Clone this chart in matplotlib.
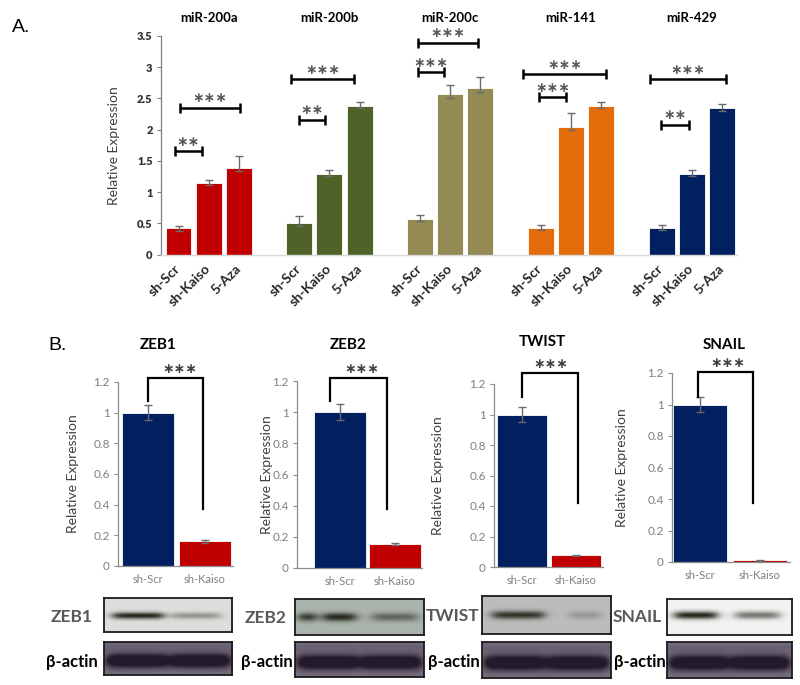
import numpy as np
import matplotlib
matplotlib.use('Agg')
import matplotlib.pyplot as plt

plt.rcParams['font.family'] = ['Lato', 'DejaVu Sans']

W, H = 800, 685

# ---------------- Panel A data ----------------
mirnas = ['miR-200a', 'miR-200b', 'miR-200c', 'miR-141', 'miR-429']
conditions_a = ['sh-Scr', 'sh-Kaiso', '5-Aza']
vals_200a = [0.42, 1.15, 1.38]
vals_200b = [0.50, 1.29, 2.38]
vals_200c = [0.57, 2.57, 2.66]
vals_141 = [0.42, 2.04, 2.38]
vals_429 = [0.42, 1.29, 2.34]
err_up_a = [[0.04, 0.04, 0.19], [0.11, 0.06, 0.06], [0.06, 0.14, 0.19],
            [0.05, 0.23, 0.06], [0.05, 0.06, 0.07]]
err_dn_a = [[0.04, 0.03, 0.05], [0.05, 0.04, 0.04], [0.03, 0.06, 0.05],
            [0.03, 0.04, 0.04], [0.03, 0.03, 0.04]]
colors_a = ['#c00000', '#4f6228', '#948a54', '#e46c0a', '#002060']
# significance brackets: (x_start, x_end, y, label) in data units
sig_a = [(-0.12, 0.78, 1.65, '**'), (0.05, 2.04, 2.35, '***'),
         (3.99, 4.85, 2.16, '**'), (3.73, 5.81, 2.81, '***'),
         (7.93, 8.79, 2.92, '***'), (7.93, 9.92, 3.39, '***'),
         (11.94, 12.84, 2.52, '***'), (11.41, 14.16, 2.89, '***'),
         (15.98, 16.91, 2.08, '**'), (15.62, 18.13, 2.81, '***')]

# ---------------- Panel B data ----------------
genes_b = ['ZEB1', 'ZEB2', 'TWIST', 'SNAIL']
conditions_b = ['sh-Scr', 'sh-Kaiso']
b_scr = [1.0, 1.0, 1.0, 1.0]
b_kaiso = [0.16, 0.155, 0.077, 0.01]
b_scr_err = [0.05, 0.05, 0.05, 0.045]
b_kaiso_err = [0.01, 0.005, 0.003, 0.002]
# bracket: (x_left, x_right, y_left, y_top, y_right, star_x)
brackets_b = [(0.0, 0.965, 1.078, 1.228, 0.37, 0.55),
              (-0.17, 0.86, 1.07, 1.22, 0.377, 0.40),
              (0.0, 1.04, 1.117, 1.274, 0.42, 0.54),
              (-0.03, 0.89, 1.05, 1.208, 0.373, 0.47)]

navy = '#002060'
red = '#c00000'


def fx(x):
    return x / W


def fy(y):
    return 1 - y / H


fig = plt.figure(figsize=(8, 6.85), dpi=100)

# ---------------- Panel A ----------------
axA = fig.add_axes([fx(161), fy(254.5), (737 - 161) / W, (254.5 - 36) / H])
series_a = [vals_200a, vals_200b, vals_200c, vals_141, vals_429]
positions = []
labels = []
for g, vals in enumerate(series_a):
    xs = np.arange(3) + 4 * g
    axA.bar(xs, vals, width=0.86, color=colors_a[g], edgecolor='white',
            linewidth=0.6, zorder=2)
    axA.errorbar(xs, vals, yerr=[err_dn_a[g], err_up_a[g]], fmt='none',
                 ecolor='#6b6b6b', elinewidth=1.0, capsize=3, capthick=1.0,
                 zorder=3)
    positions.extend(xs)
    labels.extend(conditions_a)
    axA.text(4 * g + 1, 3.5 + 0.2, mirnas[g],
             ha='center', va='bottom', fontsize=9.5, fontweight='bold',
             color='black', clip_on=False)

axA.set_xlim(-0.58, 18.5)
axA.set_ylim(0, 3.5)
axA.set_yticks(np.arange(0, 3.51, 0.5))
axA.set_yticklabels(['0', '0.5', '1', '1.5', '2', '2.5', '3', '3.5'])
axA.set_xticks(positions)
axA.set_xticklabels(labels, rotation=45, ha='right', va='center',
                    rotation_mode='anchor', fontsize=10, fontweight='bold',
                    color='#262626')
axA.tick_params(axis='x', length=0, pad=9)
axA.tick_params(axis='y', length=3, width=0.8, color='#7f7f7f',
                labelsize=8, labelcolor='#333333', pad=3)
for lab in axA.get_yticklabels():
    lab.set_fontweight('heavy')
for s in ['top', 'right']:
    axA.spines[s].set_visible(False)
axA.spines['left'].set_color('#7f7f7f')
axA.spines['left'].set_linewidth(0.9)
axA.spines['bottom'].set_color('#d9d9d9')
axA.spines['bottom'].set_linewidth(1.0)
axA.set_ylabel('Relative Expression', fontsize=10, color='#404040', labelpad=12)

for x1, x2, y, lab in sig_a:
    axA.plot([x1, x2], [y, y], color='black', lw=1.8, zorder=4,
             solid_capstyle='butt')
    axA.plot([x1, x2], [y, y], ls='none', marker='|', ms=7, mew=1.8,
             color='black', zorder=4)
    axA.text((x1 + x2) / 2, y + 0.04, lab.replace('*', '∗'), ha='center',
             va='bottom', fontsize=10, fontweight='bold', color='#595959',
             family=['DejaVu Sans'])

fig.text(fx(12), fy(27), 'A.', fontsize=14, ha='left', va='center',
         family=['Liberation Sans', 'DejaVu Sans'])
fig.text(fx(48), fy(345), 'B.', fontsize=14, ha='left', va='center',
         family=['Liberation Sans', 'DejaVu Sans'])

# ---------------- Panel B ----------------
# layout per panel: spine x, baseline y, y of 1.2, first bar centre, spacing, right end, bar px
layout_b = [(118, 566, 382, 148, 57, 233, 52),
            (297, 568, 381, 339.5, 55, 422, 52),
            (494, 567, 384, 522, 54, 603, 50),
            (672, 562, 373, 700, 59.5, 790, 54)]
ylabel_x = [73, 267, 438, 622]

for i, gene in enumerate(genes_b):
    sx, by, ty, c0, sp, rx, bw = layout_b[i]
    ax = fig.add_axes([fx(sx), fy(by), (rx - sx) / W, (by - ty) / H])
    xs = np.arange(2)
    ax.bar(xs, [b_scr[i], b_kaiso[i]], width=bw / sp, color=[navy, red],
           edgecolor='white', linewidth=0.6, zorder=2)
    ax.errorbar(xs, [b_scr[i], b_kaiso[i]], yerr=[b_scr_err[i], b_kaiso_err[i]],
                fmt='none', ecolor='#6b6b6b', elinewidth=1.0, capsize=3,
                capthick=1.0, zorder=3)
    ax.set_xlim((sx - c0) / sp, (rx - c0) / sp)
    ax.set_ylim(0, 1.2)
    ax.set_yticks(np.arange(0, 1.21, 0.2))
    ax.set_yticklabels(['0', '0.2', '0.4', '0.6', '0.8', '1', '1.2'])
    ax.set_xticks(xs)
    ax.set_xticklabels(conditions_b)
    ax.tick_params(axis='x', length=0, pad=6, labelsize=8, labelcolor='#7f7f7f')
    ax.tick_params(axis='y', length=3, width=0.8, color='#8c8c8c',
                   labelsize=8.5, labelcolor='#7f7f7f', pad=3)
    for s in ['top', 'right']:
        ax.spines[s].set_visible(False)
    ax.spines['left'].set_color('#8c8c8c')
    ax.spines['bottom'].set_color('#8c8c8c')
    ax.spines['left'].set_linewidth(0.9)
    ax.spines['bottom'].set_linewidth(0.9)
    xl, xr, yl, yt, yr, stx = brackets_b[i]
    ax.plot([xl, xl, xr, xr], [yl, yt, yt, yr], color='black', lw=1.6,
            clip_on=False, zorder=4, solid_joinstyle='miter')
    ax.text(stx, yt + 0.01, '∗∗∗', ha='center', va='bottom', fontsize=10,
            fontweight='bold', color='#404040', family=['DejaVu Sans'],
            clip_on=False)
    fig.text(fx(ylabel_x[i]), fy((by + ty) / 2), 'Relative Expression',
             rotation=90, ha='center', va='center', fontsize=10, color='#404040')

title_b_pos = [(158, 345), (348, 345), (542, 342), (724, 345)]
for gene, (tx, ty_) in zip(genes_b, title_b_pos):
    fig.text(fx(tx), fy(ty_), gene, ha='center', va='center', fontsize=11,
             fontweight='bold', color='black')

# ---------------- Western blots (drawn illustrations) ----------------
blot_rects = {'ZEB1': [(104, 597.7, 232, 631.7), (104, 641.7, 232, 675)],
              'ZEB2': [(295, 599, 424, 635), (295, 642, 424, 677)],
              'TWIST': [(482, 596, 611, 634), (482, 642, 611, 678)],
              'SNAIL': [(667, 599, 792, 635), (667, 642, 792, 678)]}
blot_bg = {'ZEB1': '#dcdfdb', 'ZEB2': '#abb5ad', 'TWIST': '#bdbdbd',
           'SNAIL': '#f3f3f3'}
blot_bands = {'ZEB1': [(0.07, 0.46, 1.0), (0.53, 0.90, 0.40)],
              'ZEB2': [(0.03, 0.16, 0.95), (0.22, 0.47, 1.0), (0.60, 0.95, 0.55)],
              'TWIST': [(0.08, 0.48, 0.9), (0.68, 0.92, 0.25)],
              'SNAIL': [(0.06, 0.40, 1.0), (0.55, 0.90, 0.60)]}
blot_band_y = {'ZEB1': (0.52, 0.10), 'ZEB2': (0.50, 0.12),
               'TWIST': (0.50, 0.11), 'SNAIL': (0.45, 0.11)}
actin_bands = [(0.02, 0.49, 1.5), (0.51, 0.98, 1.5)]
label_pos = {'ZEB1': (72, 617, 72), 'ZEB2': (266, 618, 267),
             'TWIST': (453, 616, 454), 'SNAIL': (637, 617, 640)}


def hex2rgb(h):
    h = h.lstrip('#')
    return np.array([int(h[k:k + 2], 16) / 255 for k in (0, 2, 4)])


def make_blot(bg, dark, bands, yc, sy, nx=200, ny=60, top_light=None):
    x = np.linspace(0, 1, nx)[None, :]
    y = np.linspace(0, 1, ny)[:, None]
    D = np.zeros((ny, nx))
    for x0, x1, a in bands:
        s = 0.025
        prof = 1 / (1 + np.exp(-(x - x0) / s)) * 1 / (1 + np.exp(-(x1 - x) / s))
        D += a * prof * np.exp(-((y - yc) / sy) ** 2)
    D = np.clip(D, 0, 1)
    bgc = np.broadcast_to(hex2rgb(bg), (ny, nx, 3)).copy()
    if top_light is not None:
        lt = hex2rgb(top_light)
        w = np.clip(1 - np.abs(y - 0.15) / 0.2, 0, 1)[..., None]
        bgc = bgc * (1 - w) + lt * w
    img = bgc * (1 - D[..., None]) + hex2rgb(dark) * D[..., None]
    return img


for gene in genes_b:
    (px0, py0, px1, py1), (ax0, ay0, ax1, ay1) = blot_rects[gene]
    for rect, kind in [((px0, py0, px1, py1), 'prot'), ((ax0, ay0, ax1, ay1), 'actin')]:
        x0, y0, x1, y1 = rect
        bax = fig.add_axes([fx(x0), fy(y1), (x1 - x0) / W, (y1 - y0) / H])
        if kind == 'prot':
            yc, sy = blot_band_y[gene]
            img = make_blot(blot_bg[gene], '#24241a', blot_bands[gene], yc, sy)
        else:
            img = make_blot('#7a7283', '#231b2b', actin_bands, 0.58, 0.22,
                            top_light='#6a6274')
        bax.imshow(img, aspect='auto', extent=[0, 1, 1, 0], interpolation='bilinear')
        bax.set_xticks([])
        bax.set_yticks([])
        for s in bax.spines.values():
            s.set_color('#1a1a1a')
            s.set_linewidth(1.3)
    lx, ly, bx = label_pos[gene]
    fig.text(fx(lx), fy(ly), gene, ha='center', va='center', fontsize=12.5,
             fontweight='bold', color='#595959')
    fig.text(fx(bx), fy(662), 'β-actin', ha='center', va='center',
             fontsize=12, fontweight='bold', color='black',
             family=['Lato', 'DejaVu Sans'])

fig.savefig('out.png', dpi=100)
